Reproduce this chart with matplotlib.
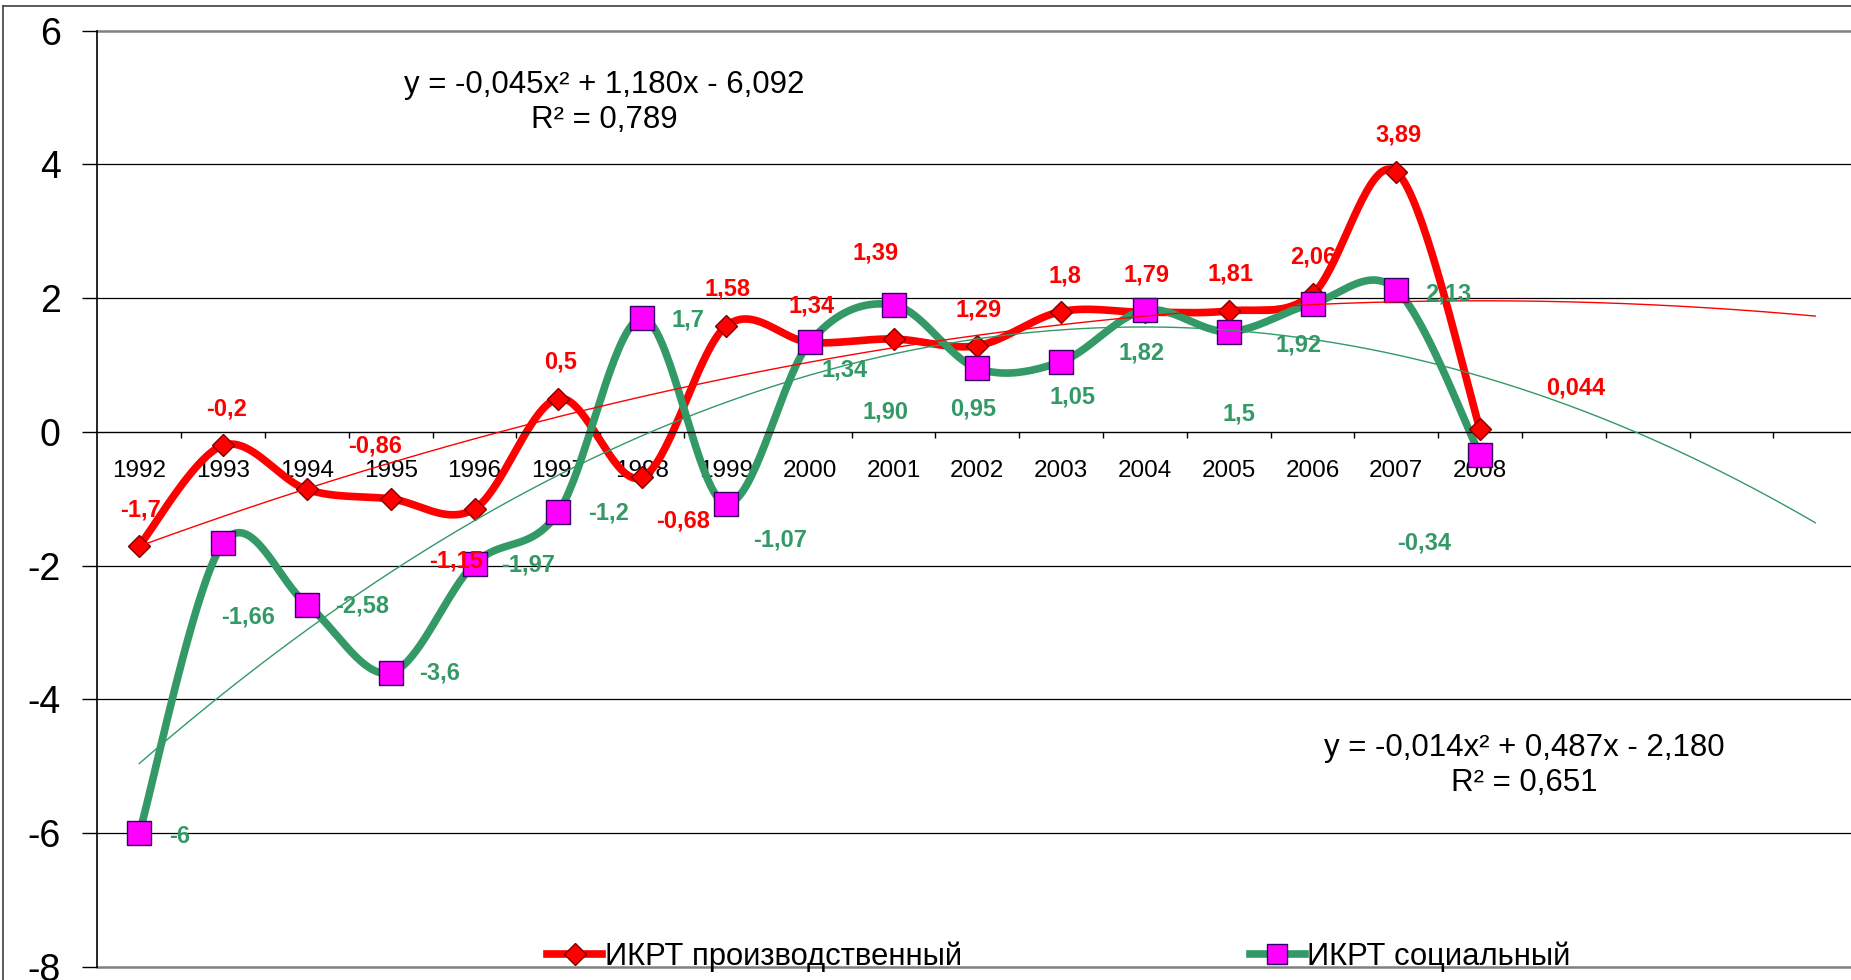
import numpy as np
import matplotlib
matplotlib.use("Agg")
import matplotlib.pyplot as plt
from matplotlib.lines import Line2D

############################
# Data
############################

years = ["1992", "1993", "1994", "1995", "1996", "1997", "1998", "1999", "2000",
         "2001", "2002", "2003", "2004", "2005", "2006", "2007", "2008"]

prod_values = [-1.7, -0.2, -0.86, -1.0, -1.15, 0.5, -0.68, 1.58, 1.34,
               1.39, 1.29, 1.8, 1.79, 1.81, 2.06, 3.89, 0.044]
soc_values = [-6, -1.66, -2.58, -3.6, -1.97, -1.2, 1.7, -1.07, 1.34,
              1.90, 0.95, 1.05, 1.82, 1.5, 1.92, 2.13, -0.34]

prod_labels = ["-1,7", "-0,2", "-0,86", None, "-1,15", "0,5", "-0,68", "1,58", "1,34",
               "1,39", "1,29", "1,8", "1,79", "1,81", "2,06", "3,89", "0,044"]
soc_labels = ["-6", "-1,66", "-2,58", "-3,6", "-1,97", "-1,2", "1,7", "-1,07", "1,34",
              "1,90", "0,95", "1,05", "1,82", "1,5", "1,92", "2,13", "-0,34"]

prod_name = "ИКРТ производственный"
soc_name = "ИКРТ социальный"

prod_eq = "y = -0,014x² + 0,487x - 2,180\nR² = 0,651"
soc_eq = "y = -0,045x² + 1,180x - 6,092\nR² = 0,789"

y_ticks = [-8, -6, -4, -2, 0, 2, 4, 6]
forecast = 4

############################
# Styles
############################

RED = "#FF0000"
GREEN = "#339966"
MAGENTA = "#FF00FF"

# label offsets in pixels (dx, dy) from the point
prod_offsets = [(1, 36), (3, 36), (68, 43), None, (-18, -52), (2, 37), (41, -44), (2, 37), (2, 36),
                (-18, 86), (1, 36), (4, 36), (2, 37), (2, 37), (1, 37), (2, 37), (96, 41)]
soc_offsets = [(40, -3), (25, -74), (55, -1), (49, 0), (54, -1), (50, -1), (46, -2), (54, -36), (35, -28),
               (-8, -107), (-4, -41), (11, -35), (-3, -43), (10, -82), (-14, -41), (52, -4), (-56, -88)]

plt.rcParams.update({
    "font.family": ["Liberation Sans", "DejaVu Sans"],
    "axes.unicode_minus": False,
})


def smooth(xs, ys, n=40):
    # Excel-like smoothing: Catmull-Rom through the points as cubic Bezier
    P = np.column_stack([xs, ys]).astype(float)
    Pp = np.vstack([P[0], P, P[-1]])
    t = np.linspace(0, 1, n)[:, None]
    out = []
    for i in range(len(P) - 1):
        p0 = Pp[i + 1]
        p3 = Pp[i + 2]
        c1 = p0 + (Pp[i + 2] - Pp[i]) / 6
        c2 = p3 - (Pp[i + 3] - Pp[i + 1]) / 6
        seg = ((1 - t) ** 3) * p0 + 3 * ((1 - t) ** 2) * t * c1 + 3 * (1 - t) * t ** 2 * c2 + t ** 3 * p3
        out.append(seg if i == 0 else seg[1:])
    out = np.vstack(out)
    return out[:, 0], out[:, 1]


W, H = 1851, 980
fig = plt.figure(figsize=(W / 100, H / 100), dpi=100)
fig.patch.set_facecolor("white")

step = 83.8
left_px = 97.4
ax = fig.add_axes([left_px / W, 13 / H, (len(years) + forecast) * step / W, 936.3 / H])

x_pos = np.arange(1, len(years) + 1)
ax.set_xlim(0.5, len(years) + forecast + 0.5)
ax.set_ylim(-8, 6)

# -------------------------
# Axes / grid
# -------------------------
for s in ["top", "right"]:
    ax.spines[s].set_visible(False)
ax.spines["bottom"].set_position(("data", 0))
ax.spines["bottom"].set_linewidth(1.0)
ax.spines["left"].set_linewidth(1.2)

for v in y_ticks:
    if v in (6, -8):
        ax.axhline(v, color="#808080", lw=1.8, zorder=1, clip_on=False)
    elif v != 0:
        ax.axhline(v, color="black", lw=0.9, zorder=1)

ax.set_yticks(y_ticks, labels=[str(v) for v in y_ticks])
ax.tick_params(axis="y", length=10.8, width=1, pad=15.5, labelsize=27)

ax.set_xticks(x_pos, labels=years)
ax.tick_params(axis="x", which="major", length=0, pad=20.5, labelsize=17.5)
ax.set_xticks(np.arange(1.5, len(years) + forecast, 1), minor=True)
ax.tick_params(axis="x", which="minor", length=4.3, width=1, direction="out")

# -------------------------
# Series
# -------------------------
sx, sy = smooth(x_pos, prod_values)
ax.plot(sx, sy, color=RED, lw=5.5, solid_capstyle="round", zorder=2)
gx, gy = smooth(x_pos, soc_values)
ax.plot(gx, gy, color=GREEN, lw=5.5, solid_capstyle="round", zorder=2.1)

ax.plot(x_pos, prod_values, ls="none", marker="D", ms=11.5, mfc=RED, mec="#800000", mew=1, zorder=3)
ax.plot(x_pos, soc_values, ls="none", marker="s", ms=17, mfc=MAGENTA, mec="#330066", mew=1, zorder=3.1)

# -------------------------
# Polynomial trendlines (order 2, 4 periods forward)
# -------------------------
xt = np.linspace(1, len(years) + forecast, 300)
cp = np.polyfit(x_pos, prod_values, 2)
cs = np.polyfit(x_pos, soc_values, 2)
ax.plot(xt, np.polyval(cp, xt), color=RED, lw=1.0, zorder=4)
ax.plot(xt, np.polyval(cs, xt), color=GREEN, lw=1.0, zorder=4)

# -------------------------
# Data labels
# -------------------------
for x, v, lab, off in zip(x_pos, prod_values, prod_labels, prod_offsets):
    if lab is None:
        continue
    ax.annotate(lab, (x, v), xytext=off, textcoords="offset pixels", ha="center", va="center",
                fontsize=17, fontweight="bold", color=RED, zorder=5)

for x, v, lab, off in zip(x_pos, soc_values, soc_labels, soc_offsets):
    ax.annotate(lab, (x, v), xytext=off, textcoords="offset pixels", ha="center", va="center",
                fontsize=17, fontweight="bold", color=GREEN, zorder=5)

# -------------------------
# Trend equations
# -------------------------
fig.text(604.5 / W, 1 - 102.5 / H, soc_eq, ha="center", va="center", multialignment="center",
         fontsize=22.5, linespacing=1.22)
fig.text(1524.5 / W, 1 - 765.5 / H, prod_eq, ha="center", va="center", multialignment="center",
         fontsize=22.5, linespacing=1.22)

# -------------------------
# Legend
# -------------------------
handles = [
    Line2D([], [], color=RED, lw=5.5, marker="D", ms=11, mfc=RED, mec="#800000", mew=1),
    Line2D([], [], color=GREEN, lw=5.5, marker="s", ms=14, mfc=MAGENTA, mec="#330066", mew=1),
]
fig.legend(handles, [prod_name, soc_name], loc="center left",
           bbox_to_anchor=(547 / W, 1 - 957 / H), ncol=2, frameon=False, fontsize=22.3,
           handlelength=1.78, handletextpad=0.08, columnspacing=9.3, borderpad=0, borderaxespad=0)

# chart-area border (left and top visible)
fig.add_artist(Line2D([2.5 / W, 2.5 / W], [0, 1 - 6 / H], transform=fig.transFigure, color="#404040", lw=1.2))
fig.add_artist(Line2D([2.5 / W, 1], [1 - 6 / H, 1 - 6 / H], transform=fig.transFigure, color="#404040", lw=1.2))

fig.savefig("out.png", dpi=100)
